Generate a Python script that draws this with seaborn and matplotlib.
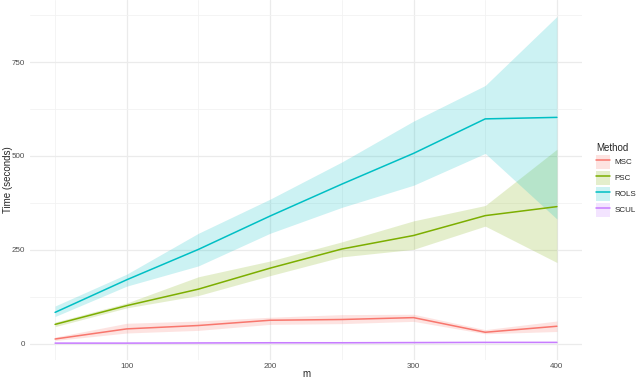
import numpy as np
import pandas as pd
import matplotlib
matplotlib.use("Agg")
import matplotlib.pyplot as plt
from matplotlib.patches import Patch
from matplotlib.lines import Line2D
import seaborn as sns

# data
m = [50, 100, 150, 200, 250, 300, 350, 400]
methods = ["MSC", "PSC", "ROLS", "SCUL"]

msc_mean = [12, 39, 48, 62, 64, 69, 30, 46]
msc_lo = [8, 28, 35, 51, 53, 59, 26, 32]
msc_hi = [17, 54, 60, 70, 77, 78, 37, 60]

psc_mean = [51, 101, 145, 201, 252, 288, 341, 365]
psc_lo = [45, 95, 128, 181, 231, 251, 313, 216]
psc_hi = [57, 108, 178, 220, 271, 327, 368, 518]

rols_mean = [83, 170, 251, 340, 425, 507, 599, 603]
rols_lo = [72, 153, 207, 294, 363, 422, 507, 332]
rols_hi = [100, 185, 294, 385, 484, 593, 688, 872]

scul_mean = [1, 1, 1.5, 2, 2, 2.5, 3, 3]
scul_lo = [0, 0, 0.5, 1, 1, 1.5, 2, 2]
scul_hi = [2, 2, 2.5, 3, 3, 3.5, 4, 4]

colors = ["#F8766D", "#7CAE00", "#00BFC4", "#C77CFF"]

means = [msc_mean, psc_mean, rols_mean, scul_mean]
los = [msc_lo, psc_lo, rols_lo, scul_lo]
his = [msc_hi, psc_hi, rols_hi, scul_hi]

df = pd.concat([
    pd.DataFrame({"m": m, "time": mu, "lo": lo, "hi": hi, "Method": name})
    for name, mu, lo, hi in zip(methods, means, los, his)
])

sns.set_style("white")
plt.rcParams["font.family"] = ["Liberation Sans", "DejaVu Sans"]

fig, ax = plt.subplots(figsize=(6.4, 3.81), dpi=100)
fig.subplots_adjust(left=30 / 640, right=582 / 640, bottom=21 / 381, top=1.0)

palette = dict(zip(methods, colors))
for name in methods:
    sub = df[df["Method"] == name]
    ax.fill_between(sub["m"], sub["lo"], sub["hi"], color=palette[name],
                    alpha=0.2, linewidth=0)
sns.lineplot(data=df, x="m", y="time", hue="Method", palette=palette,
             linewidth=1.1, ax=ax, legend=False)

ax.set_xlim(32.5, 417.5)
ax.set_ylim(-44, 916)
ax.set_xticks([100, 200, 300, 400])
ax.set_xticks([50, 150, 250, 350], minor=True)
ax.set_yticks([0, 250, 500, 750])
ax.set_yticks([125, 375, 625, 875], minor=True)
ax.grid(which="major", color="#EBEBEB", linewidth=0.9)
ax.grid(which="minor", color="#F2F2F2", linewidth=0.6)
ax.set_axisbelow(True)
for s in ax.spines.values():
    s.set_visible(False)
ax.tick_params(which="both", length=0, labelsize=5.8, labelcolor="#4D4D4D")
ax.tick_params(axis="y", pad=3.5)
ax.tick_params(axis="x", pad=2)
ax.set_xlabel("m", fontsize=7)
ax.set_ylabel("Time (seconds)", fontsize=7)
ax.xaxis.set_label_coords(0.5, -0.026)
ax.yaxis.set_label_coords(-0.031, 0.5)

handles = [(Patch(facecolor=c, alpha=0.2, edgecolor="none"),
            Line2D([], [], color=c, linewidth=1.1)) for c in colors]
leg = fig.legend(handles, methods, title="Method", loc="upper left",
                 bbox_to_anchor=(596 / 640, 1 - 143 / 381),
                 frameon=False, fontsize=5.8, title_fontsize=7,
                 handlelength=1.74, handleheight=2.3, labelspacing=0.24,
                 handletextpad=0.6, borderaxespad=0, borderpad=0)
leg._legend_box.align = "left"

fig.savefig("out.png", dpi=100)
